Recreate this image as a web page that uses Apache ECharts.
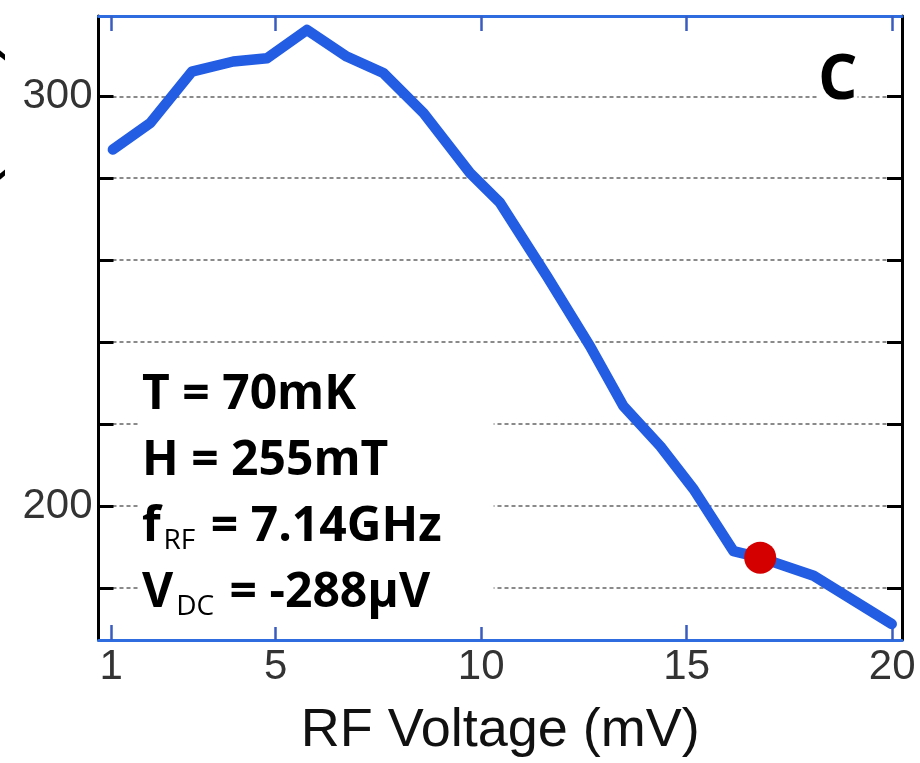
<!DOCTYPE html>
<html>
<head>
<meta charset="utf-8">
<style>
  html, body { margin: 0; padding: 0; background: #fff; }
  #chart { width: 920px; height: 763px; }
</style>
<script src="https://cdn.jsdelivr.net/npm/echarts@6/dist/echarts.min.js"></script>
</head>
<body>
<div id="chart"></div>
<script>
// RF voltage sweep (mV) and the measured response
const rfVoltage = [1.04, 1.95, 2.96, 3.97, 4.79, 5.76, 6.73, 7.62, 8.6, 9.73, 10.46, 11.6, 12.65, 13.46, 14.36, 15.17, 16.14, 16.79, 18.09, 19.99];
const response  = [287.0, 293.5, 306.0, 308.5, 309.3, 316.2, 309.7, 305.7, 295.9, 281.3, 274.0, 256.1, 239.0, 224.4, 214.6, 204.1, 189.0, 187.4, 183.0, 171.2];

// highlighted operating point
const markedPoint = [16.79, 187.4];

// axis ticks and labels
const xTicks = [1, 5, 10, 15, 20];
const yTicks = [180, 200, 220, 240, 260, 280, 300];
const yLabels = [200, 300];
const xRange = [0.69, 20.24];
const yRange = [167.3, 319.6];

// annotation lines
const annotation = [
  ['T = 70mK'],
  ['H = 255mT'],
  ['f', 'RF', ' = 7.14GHz'],
  ['V', 'DC', ' = -288μV']
];

const lineBlue = '#235de4';
const frameBlue = '#2f6ce0';
const tickBlue = '#3a5cc0';

const linePoints = rfVoltage.map((x, i) => [x, response[i]]);

const richLines = annotation.map(parts => {
  if (parts.length === 1) return '{b|' + parts[0] + '}';
  return '{b|' + parts[0] + '}{s|' + parts[1] + '}{b|' + parts[2] + '}';
}).join('\n');

const chart = echarts.init(document.getElementById('chart'), null, { renderer: 'canvas' });

chart.setOption({
  animation: false,
  backgroundColor: '#fff',
  grid: { left: 98.5, right: 18, top: 16, bottom: 122, containLabel: false },
  xAxis: [
    {
      type: 'value', position: 'bottom', min: xRange[0], max: xRange[1],
      name: 'RF Voltage (mV)', nameLocation: 'middle', nameGap: 64,
      nameTextStyle: { fontFamily: 'Liberation Sans', fontSize: 54, color: '#111' },
      axisLine: { show: true, lineStyle: { color: frameBlue, width: 3 } },
      axisTick: { show: true, inside: true, length: 15, customValues: xTicks, lineStyle: { color: tickBlue, width: 2.5 } },
      axisLabel: { show: true, customValues: xTicks, margin: 6, fontFamily: 'Liberation Sans', fontSize: 42, color: '#333' },
      splitLine: { show: false }
    },
    {
      type: 'value', position: 'top', min: xRange[0], max: xRange[1],
      axisLine: { show: true, lineStyle: { color: frameBlue, width: 3 } },
      axisTick: { show: true, inside: true, length: 15, customValues: xTicks, lineStyle: { color: tickBlue, width: 2.5 } },
      axisLabel: { show: false },
      splitLine: { show: false }
    }
  ],
  yAxis: [
    {
      type: 'value', position: 'left', min: yRange[0], max: yRange[1],
      axisLine: { show: true, lineStyle: { color: '#000', width: 3 } },
      axisTick: { show: true, inside: true, length: 15, customValues: yTicks, lineStyle: { color: '#000', width: 3 } },
      axisLabel: { show: true, customValues: yLabels, margin: 6, fontFamily: 'Liberation Sans', fontSize: 42, color: '#333' },
      splitLine: { show: true, lineStyle: { color: '#8a8a8a', width: 2, type: [4, 3] } }
    },
    {
      type: 'value', position: 'right', min: yRange[0], max: yRange[1],
      axisLine: { show: true, lineStyle: { color: '#000', width: 3 } },
      axisTick: { show: true, inside: true, length: 15, customValues: yTicks, lineStyle: { color: '#000', width: 3 } },
      axisLabel: { show: false },
      splitLine: { show: false }
    }
  ],
  title: {
    text: richLines,
    left: 138, top: 362,
    backgroundColor: '#fff',
    padding: [0, 52, 6, 4],
    z: 5,
    textStyle: {
      rich: {
        b: { fontFamily: 'Open Sans', fontWeight: 'bold', fontSize: 48, color: '#000', lineHeight: 66 },
        s: { fontFamily: 'Open Sans', fontWeight: 'normal', fontSize: 28, color: '#000', lineHeight: 38, padding: [28, 3, 0, 3] }
      }
    }
  },
  graphic: [
    {
      type: 'text', left: 818, top: 50, z: 5,
      style: { text: 'C', font: 'bold 62px "Open Sans"', fill: '#000', backgroundColor: '#fff' }
    },
    {
      type: 'text', x: -30, y: 115, rotation: Math.PI / 2, z: 5,
      style: { text: '(mK)', font: '72px "Liberation Sans"', fill: '#000', align: 'center', verticalAlign: 'middle' }
    }
  ],
  series: [
    {
      type: 'line', xAxisIndex: 0, yAxisIndex: 0,
      data: linePoints, showSymbol: false, symbol: 'none', smooth: false,
      lineStyle: { color: lineBlue, width: 10.5, join: 'round', cap: 'round' },
      z: 3
    },
    {
      type: 'scatter', xAxisIndex: 0, yAxisIndex: 0,
      data: [markedPoint], symbol: 'circle', symbolSize: 32,
      itemStyle: { color: '#d40000', opacity: 1 },
      z: 4
    }
  ]
});
</script>
</body>
</html>
